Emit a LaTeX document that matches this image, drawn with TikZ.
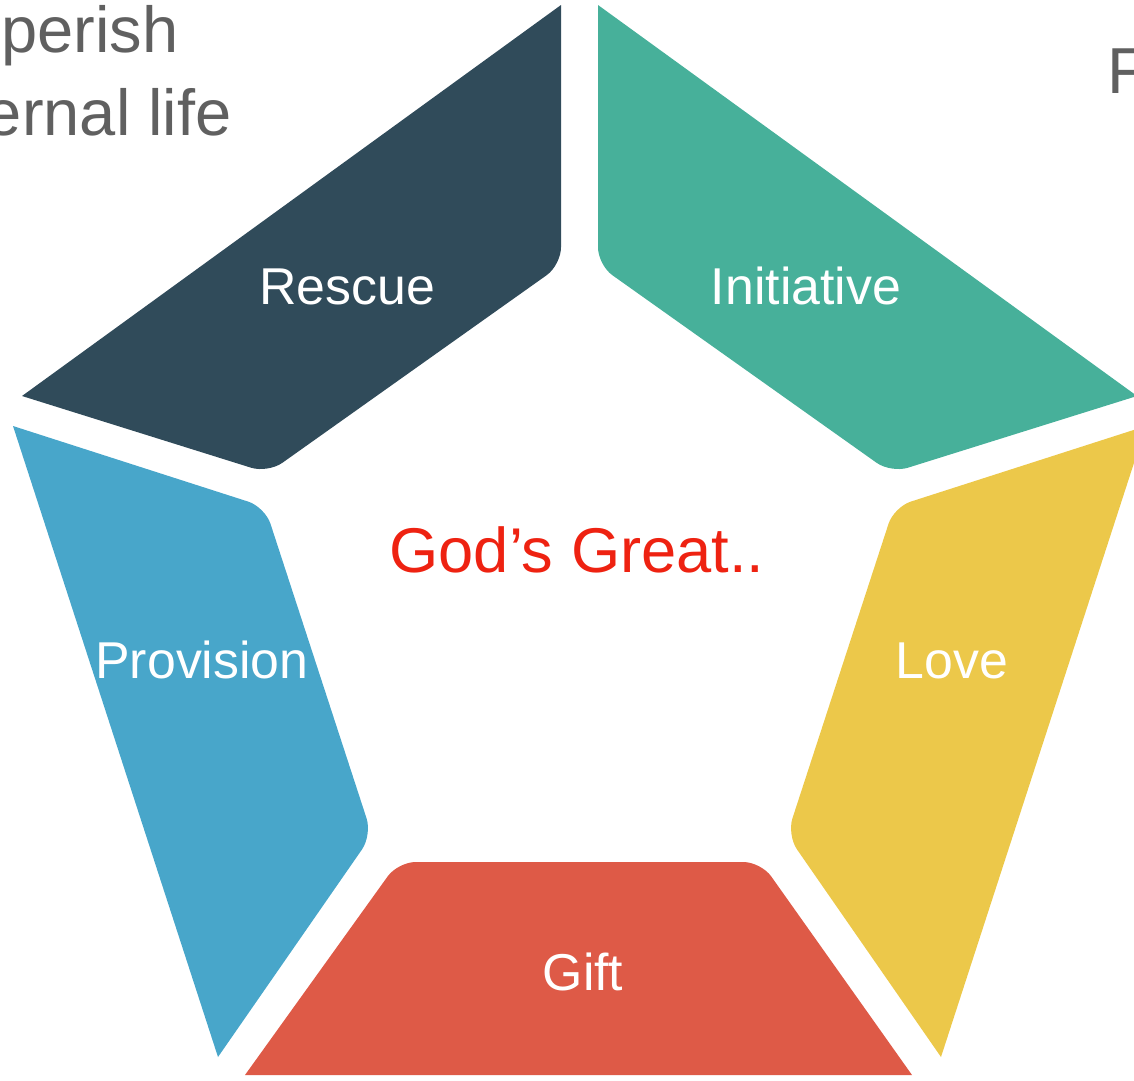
\documentclass[tikz,border=0pt]{standalone}
\usepackage{fontspec}
\setmainfont{Liberation Sans}
\usepackage{tikz}
\usepackage{xcolor}

\definecolor{rescuecol}{HTML}{304B5A}
\definecolor{initcol}{HTML}{47B09A}
\definecolor{provcol}{HTML}{48A6CA}
\definecolor{lovecol}{HTML}{ECC84A}
\definecolor{giftcol}{HTML}{DE5A47}
\definecolor{greytext}{HTML}{606060}
\definecolor{titlered}{HTML}{EE2211}

\tikzset{
  seglabel/.style={text=white,font=\fontsize{29.5}{34}\selectfont,anchor=base},
  backtext/.style={text=greytext,inner sep=0pt,font=\fontsize{37}{42}\selectfont},
}

\begin{document}
\begin{tikzpicture}[x=0.02cm,y=-0.02cm]
    \useasboundingbox (0,0) rectangle (1134,1080);

    % Background verse text (cut by the frame)
    \node[backtext,anchor=base east] (perish) at (179,52) {perish};
    \node[backtext,anchor=base east] (life) at (232,135) {ernal life};
    \node[backtext,anchor=base west] (fword) at (1107,93) {F};

    % Five segments of the pentagon ring
    \fill[rescuecol] (22,396) -- (561,5) [rounded corners=10pt] -- (561,265) -- (268,473) [sharp corners] -- cycle;
    \fill[initcol] (598,5) -- (1137,396) [rounded corners=10pt] -- (891,473) -- (598,265) [sharp corners] -- cycle;
    \fill[provcol] (13,426) [rounded corners=10pt] -- (265,507) -- (372,835) [sharp corners] -- (218,1057) -- cycle;
    \fill[lovecol] (1146,426) -- (941,1057) [rounded corners=10pt] -- (787,835) -- (894,507) [sharp corners] -- cycle;
    \fill[giftcol] (245,1075) [rounded corners=10pt] -- (398,862) -- (761,862) [sharp corners] -- (912,1075) -- cycle;

    % Labels
    \node[seglabel] (rescue) at (347,304) {Rescue};
    \node[seglabel] (initiative) at (806,304) {Initiative};
    \node[seglabel] (provision) at (202,678) {Provision};
    \node[seglabel] (love) at (952,678) {Love};
    \node[seglabel] (gift) at (583,990) {Gift};

    \node[text=titlered,font=\fontsize{36}{40}\selectfont,anchor=base] (title) at (577,572) {God’s Great..};
\end{tikzpicture}
\end{document}
